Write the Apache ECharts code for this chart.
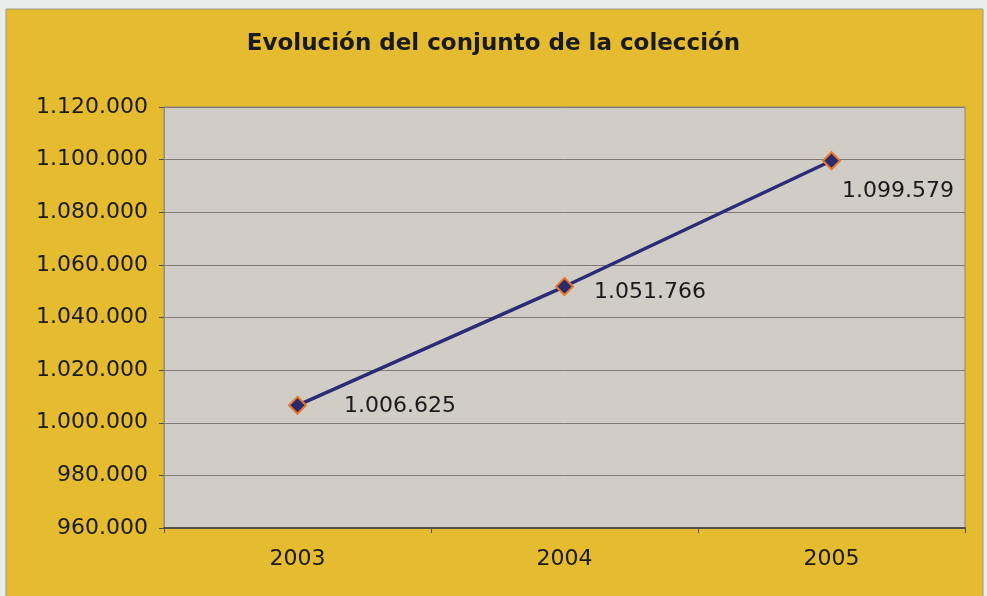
<!DOCTYPE html>
<html>
<head>
<meta charset="utf-8">
<script src="https://cdn.jsdelivr.net/npm/echarts@6/dist/echarts.min.js"></script>
<style>
html,body{margin:0;padding:0;background:#e9edec;}
#c{width:987px;height:596px;}
</style>
</head>
<body>
<div id="c"></div>
<script>
const titleText = 'Evolución del conjunto de la colección';
const categories = ['2003', '2004', '2005'];
const values = [1006625, 1051766, 1099579];
const labelOffsets = [[37, 1], [20, 6], [1, 31]];

function fmt(v) {
  return String(v).replace(/\B(?=(\d{3})+(?!\d))/g, '.');
}

const chart = echarts.init(document.getElementById('c'));
chart.setOption({
  backgroundColor: '#e9edec',
  animation: false,
  graphic: [{
    type: 'rect', z: -10, silent: true,
    shape: { x: 6, y: 9, width: 977, height: 590 },
    style: { fill: '#e5bc2f', stroke: '#9a9a8a', lineWidth: 1 }
  }],
  title: {
    text: titleText, left: 'center', top: 28,
    textStyle: { fontFamily: 'DejaVu Sans', fontWeight: 'bold', fontSize: 23, color: '#1a1a1a' }
  },
  grid: {
    left: 164, top: 107, right: 22, bottom: 68,
    show: true, backgroundColor: '#d0cdc6', borderColor: '#8c8780', borderWidth: 1
  },
  xAxis: {
    type: 'category', data: categories, boundaryGap: true,
    axisLine: { lineStyle: { color: '#555049', width: 2 } },
    axisTick: { show: true, length: 5, lineStyle: { color: '#555049' } },
    axisLabel: { margin: 20, fontFamily: 'DejaVu Sans', fontSize: 22, color: '#1a1a1a' }
  },
  yAxis: {
    type: 'value', min: 960000, max: 1120000, interval: 20000,
    axisLine: { show: true, lineStyle: { color: '#8c8780', type: 'dotted' } },
    axisTick: { show: true, length: 5, lineStyle: { color: '#555049' } },
    splitLine: { lineStyle: { color: '#7f7a73', width: 1 } },
    axisLabel: { margin: 16, fontFamily: 'DejaVu Sans', fontSize: 22, color: '#1a1a1a', formatter: fmt }
  },
  series: [{
    type: 'line',
    data: values.map((v, i) => ({
      value: v,
      label: { offset: labelOffsets[i] }
    })),
    symbol: 'diamond', symbolSize: 17,
    lineStyle: { color: '#2d2a78', width: 3.5 },
    itemStyle: { color: '#2b2a6b', borderColor: '#e8782a', borderWidth: 2 },
    label: {
      show: true, position: 'right', distance: 0,
      fontFamily: 'DejaVu Sans', fontSize: 22, color: '#1a1a1a',
      formatter: p => fmt(p.value)
    }
  }]
});
</script>
</body>
</html>
